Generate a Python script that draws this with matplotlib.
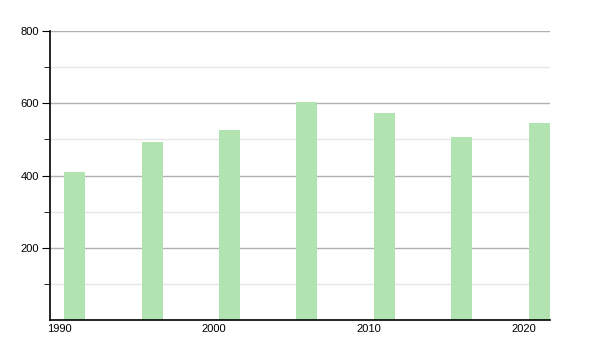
import matplotlib.pyplot as plt
from matplotlib.ticker import FixedLocator

plt.rcParams['font.family'] = ['Liberation Sans', 'DejaVu Sans']

# Data
years = [1991, 1996, 2001, 2006, 2011, 2016, 2021]
values = [410, 493, 526, 603, 573, 506, 546]
xticks = [1990, 2000, 2010, 2020]
yticks_major = [200, 400, 600, 800]
yticks_minor = [100, 300, 500, 700]

fig = plt.figure(figsize=(6, 3.5), dpi=100)
ax = fig.add_axes([50/600, 30/350, 500/600, 289/350])

ax.bar(years, values, width=1.36, color='#b1e4b1', zorder=2)

ax.set_xlim(1989.4, 2021.7)
ax.set_ylim(0, 800)
ax.set_xticks(xticks)
ax.set_xticklabels([str(y) for y in xticks])
ax.yaxis.set_major_locator(FixedLocator(yticks_major))
ax.yaxis.set_minor_locator(FixedLocator(yticks_minor))

ax.grid(axis='y', which='major', color='#b0b0b0', linewidth=1, zorder=0)
ax.grid(axis='y', which='minor', color='#e6e6e6', linewidth=1, zorder=0)

for s in ['top', 'right']:
    ax.spines[s].set_visible(False)
ax.spines['left'].set_linewidth(1.2)
ax.spines['bottom'].set_linewidth(1.2)

ax.tick_params(axis='x', length=0, labelsize=8, pad=3)
ax.tick_params(axis='y', which='major', length=6, labelsize=8, pad=2)
ax.tick_params(axis='y', which='minor', length=4)

fig.savefig('out.png', dpi=100)
